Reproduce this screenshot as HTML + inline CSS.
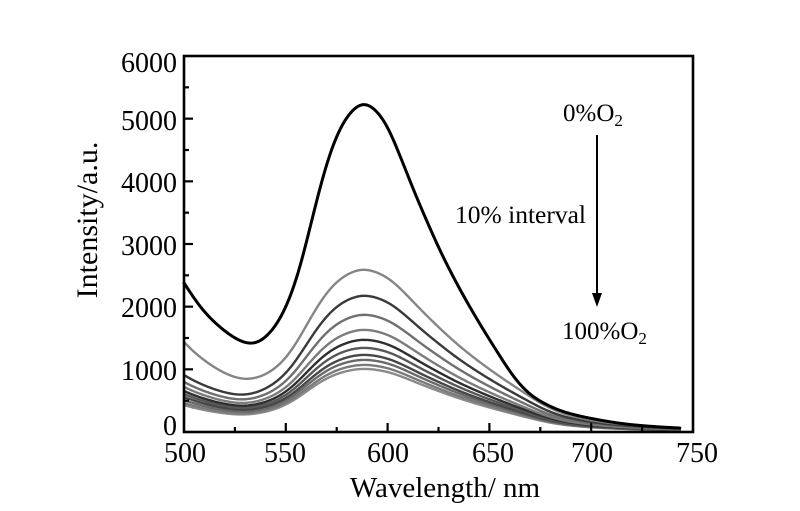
<!DOCTYPE html>
<html>
<head>
<meta charset="utf-8">
<style>
html,body{margin:0;padding:0;background:#fff;}
svg{display:block;}
text{font-family:"Liberation Serif","Times New Roman",serif;fill:#000;}
</style>
</head>
<body>
<svg id="chart" xmlns="http://www.w3.org/2000/svg" width="800" height="511" viewBox="0 0 800 511">
<rect x="0" y="0" width="800" height="511" fill="#fff"/>
<g id="curves" fill="none" stroke-linejoin="round" stroke-linecap="round"></g>
<!-- frame -->
<rect x="184" y="56" width="509" height="376" fill="none" stroke="#000" stroke-width="2.6"/>
<g id="ticks" stroke="#000" stroke-width="2.2"></g>
<!-- y tick labels -->
<g font-size="28" text-anchor="end">
<text x="177" y="72">6000</text>
<text x="177" y="130">5000</text>
<text x="177" y="192">4000</text>
<text x="177" y="255">3000</text>
<text x="177" y="317">2000</text>
<text x="177" y="380">1000</text>
<text x="177" y="435">0</text>
</g>
<!-- x tick labels -->
<g font-size="28" text-anchor="middle">
<text x="185" y="462">500</text>
<text x="285" y="462">550</text>
<text x="388" y="462">600</text>
<text x="493" y="462">650</text>
<text x="592" y="462">700</text>
<text x="697" y="462">750</text>
</g>
<!-- axis titles -->
<text x="445" y="497" font-size="29" text-anchor="middle">Wavelength/ nm</text>
<text transform="translate(97,220) rotate(-90)" font-size="30" text-anchor="middle">Intensity/a.u.</text>
<!-- annotations -->
<text x="563" y="121" font-size="25">0%O<tspan font-size="17" dy="5">2</tspan></text>
<text x="455" y="223" font-size="25.5">10% interval</text>
<text x="562" y="339" font-size="25">100%O<tspan font-size="17" dy="5">2</tspan></text>
<line x1="597" y1="135" x2="597" y2="296" stroke="#000" stroke-width="2"/>
<polygon points="592,293 602,293 597,307" fill="#000"/>
</svg>
<script>
(function(){
  var NS="http://www.w3.org/2000/svg";
  function X(l){return 184+(l-500)*509/250;}
  function Y(v){return 432-v*376/6000;}
  var tg=document.getElementById('ticks');
  function ln(x1,y1,x2,y2){var e=document.createElementNS(NS,'line');e.setAttribute('x1',x1);e.setAttribute('y1',y1);e.setAttribute('x2',x2);e.setAttribute('y2',y2);tg.appendChild(e);}
  for(var l=500;l<=750;l+=25){
    var major=(l%50===0);
    var x=X(l);
    if(l>500&&l<750) ln(x,432,x,432-(major?9:5));
  }
  for(var v=500;v<6000;v+=500){
    var major=(v%1000===0);
    var y=Y(v);
    ln(184,y,184+(major?9:5),y);
  }
  var pts=[[500,0.4525],[507.8,0.380],[517.6,0.318],[527.5,0.276],[532.4,0.266],[535.8,0.269],[543.6,0.309],[550.5,0.382],[556.9,0.495],[561.8,0.618],[566.7,0.740],[570,0.815],[576,0.915],[582,0.973],[588.2,1.0],[597.5,0.954],[605.9,0.841],[612.3,0.740],[619.1,0.642],[625.5,0.553],[633.8,0.452],[643.6,0.345],[655,0.232],[662,0.166],[670,0.113],[678,0.083],[686,0.062],[700,0.041],[720,0.022],[743.5,0.012],[760,0.008],[800,0.003]];
  var n=pts.length,xs=[],ys=[],h=[],del=[],d=[];
  for(var i=0;i<n;i++){xs.push(pts[i][0]);ys.push(pts[i][1]);}
  for(var i=0;i<n-1;i++){h[i]=xs[i+1]-xs[i];del[i]=(ys[i+1]-ys[i])/h[i];}
  d[0]=del[0];d[n-1]=del[n-2];
  for(var i=1;i<n-1;i++){
    if(del[i-1]*del[i]<=0)d[i]=0;
    else{var w1=2*h[i]+h[i-1],w2=h[i]+2*h[i-1];d[i]=(w1+w2)/(w1/del[i-1]+w2/del[i]);}
  }
  function Nraw(x){
    if(x<=xs[0])return ys[0]+d[0]*(x-xs[0]);
    if(x>=xs[n-1])return ys[n-1];
    var i=0;while(i<n-2&&x>xs[i+1])i++;
    var hh=h[i],t=(x-xs[i])/hh,t2=t*t,t3=t2*t;
    return (2*t3-3*t2+1)*ys[i]+(t3-2*t2+t)*hh*d[i]+(-2*t3+3*t2)*ys[i+1]+(t3-t2)*hh*d[i+1];
  }
  var G0=470,GS=0.5,GN=Math.round((800-G0)/GS)+1,raw=[],sm=[];
  for(var i=0;i<GN;i++)raw.push(Nraw(G0+i*GS));
  var sig=3.2,K=Math.ceil(3*sig/GS),ker=[],ks=0;
  for(var j=-K;j<=K;j++){var w=Math.exp(-0.5*Math.pow(j*GS/sig,2));ker.push(w);ks+=w;}
  for(var i=0;i<GN;i++){
    var s=0;
    for(var j=-K;j<=K;j++){var ii=Math.min(GN-1,Math.max(0,i+j));s+=raw[ii]*ker[j+K];}
    sm.push(s/ks);
  }
  var mx=0;for(var i=0;i<GN;i++)if(sm[i]>mx)mx=sm[i];
  for(var i=0;i<GN;i++)sm[i]/=mx;
  function N(x){
    var f=(x-G0)/GS;if(f<=0)return sm[0];if(f>=GN-1)return sm[GN-1];
    var i=Math.floor(f),t=f-i;return sm[i]*(1-t)+sm[i+1]*t;
  }
  var D=31.9;
  function e(l){return Math.exp(-(l-500)/D);}
  function Pk(l){return N(l)-0.45*e(l);}
  function q(l){return l<588?588+(l-588)/1.1:588+(l-588)/1.2;}
  var cg=document.getElementById('curves');
  function addPath(f,color,w){
    var s='';
    for(var l=500;l<=743.5;l+=0.5){
      s+=(l===500?'M':'L')+X(l).toFixed(2)+','+Y(f(l)).toFixed(2);
    }
    var p=document.createElementNS(NS,'path');
    p.setAttribute('d',s);p.setAttribute('stroke',color);p.setAttribute('stroke-width',w);
    cg.appendChild(p);
  }
  var Pv=[2588,2173,1869,1629,1470,1342,1230,1150,1070,1006];
  var Lv=[1438,910,800,720,655,607,560,510,463,430];
  var cols=['#858585','#3a3a3a','#707070','#7c7c7c','#2e2e2e','#585858','#474747','#6a6a6a','#7a7a7a','#8a8a8a'];
  var e588=e(588),a1=Pk(588),a0=Pk(q(500));
  for(var k=Pv.length-1;k>=0;k--){
    (function(k){
      var p=(Pv[k]-Lv[k]*e588)/(a1-a0*e588);
      var L=Lv[k]-p*a0;
      addPath(function(l){return p*Pk(q(l))+L*e(l);},cols[k],2.4);
    })(k);
  }
  addPath(function(l){return 5224*N(l);},'#000',3);
})();
</script>
</body>
</html>
